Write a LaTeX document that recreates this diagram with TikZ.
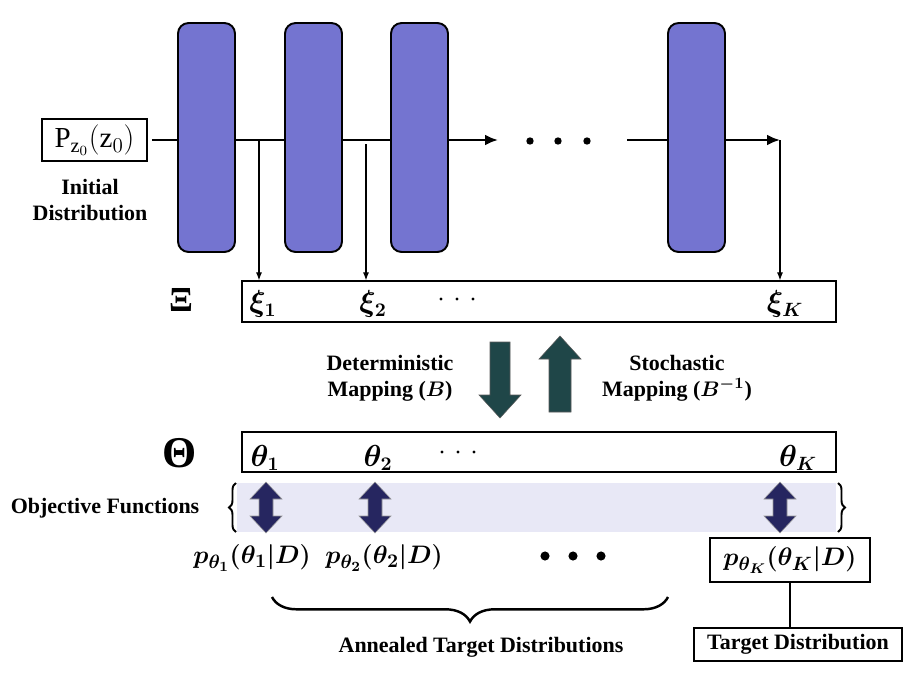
\documentclass[tikz,border=0pt]{standalone}
\usepackage{fontspec}
\setmainfont{Liberation Serif}
\usepackage{amsmath}
\usetikzlibrary{arrows.meta,decorations.pathreplacing}

\definecolor{blockblue}{RGB}{116,116,208}
\definecolor{bandblue}{RGB}{232,232,246}
\definecolor{navy}{RGB}{38,38,96}
\definecolor{mapteal}{RGB}{31,70,72}

\tikzset{
  layer/.style={draw, line width=1.1pt, fill=blockblue, rounded corners=6pt,
    minimum width=1.14cm, minimum height=4.58cm, inner sep=0pt},
  strip/.style={draw, line width=0.7pt, minimum width=11.88cm, minimum height=0.82cm, inner sep=0pt},
  thinbox/.style={draw, line width=0.7pt, inner sep=0pt},
  lbl/.style={font=\fontsize{12.5}{15}\selectfont\bfseries\boldmath, align=center},
  sym/.style={font=\fontsize{16}{18}\selectfont\boldmath, inner sep=0pt},
  dist/.style={font=\fontsize{15.2}{17}\selectfont\boldmath, inner sep=0pt},
  flow/.style={line width=1.7pt},
  tap/.style={line width=0.6pt, -{Latex[length=1.6mm,width=1.2mm]}},
  bigarrow/.style={fill=mapteal, draw=gray!70!black, line width=0.3pt},
  dblarrow/.style={fill=navy, draw=gray!80, line width=0.3pt}
}

\begin{document}
\begin{tikzpicture}[x=0.02cm,y=-0.02cm]
\useasboundingbox (0,0) rectangle (916,676);
% layers
\node[layer] (b1) at (206.5,137.5) {};
\node[layer] (b2) at (313.5,137.5) {};
\node[layer] (b3) at (419.5,137.5) {};
\node[layer] (bK) at (696.5,137.5) {};
\node[thinbox, minimum width=2.1cm, minimum height=0.84cm, font=\fontsize{16.5}{18}\selectfont] (p0) at (94.5,140) {$\mathrm{P}_{\mathrm{z}_0}(\mathrm{z}_0)$};
\node[lbl] (init) at (90,200) {Initial\\Distribution};
\coordinate (d1) at (498,140);
\coordinate (d2) at (627,140);
\coordinate (eK) at (780,140);
\coordinate (t1) at (259,140);
\coordinate (t2) at (366,144);
\foreach \x in {530,558,587} \fill (\x,141) circle (2.1pt);
\path[draw,flow,shorten <=2.5pt] (p0.east) -- (p0.east -| b1.west);
\path[draw,flow] (b1.east |- d1) -- (b2.west |- d1);
\path[draw,flow] (b2.east |- d1) -- (b3.west |- d1);
\path[draw,flow,-{Latex[length=2.6mm,width=2.2mm]}] (b3.east |- d1) -- (d1);
\path[draw,flow] (d2) -- (bK.west |- d2);
\path[draw,flow,-{Latex[length=2.6mm,width=2.2mm]}] (bK.east |- d2) -- (eK);
% xi row
\node[strip] (xi) at (539,301.5) {};
\node[font=\fontsize{20}{22}\selectfont\bfseries] (Xi) at (181,300) {Ξ};
\path[draw,tap] (t1) -- (t1 |- xi.north);
\path[draw,tap] (t2) -- (t2 |- xi.north);
\path[draw,tap] (eK) -- (eK |- xi.north);
\node[sym] (xi1) at (263,304) {$\xi_1$};
\node[sym] (xi2) at (373,304) {$\xi_2$};
\foreach \x in {441,457,473} \fill (\x,299) circle (0.9pt);
\node[sym] (xiK) at (785,304) {$\xi_K$};
% mappings
\filldraw[bigarrow] (490,342) -- (510,342) -- (510,395) -- (521,395) -- (500,418) -- (479,395) -- (490,395) -- cycle;
\filldraw[bigarrow] (560,336) -- (581,359) -- (571,359) -- (571,412) -- (549,412) -- (549,359) -- (539,359) -- cycle;
\node[lbl] (det) at (390,378) {Deterministic\\Mapping ($B$)};
\node[lbl] (sto) at (677,378) {Stochastic\\Mapping ($B^{-1}$)};
% theta row
\node[strip, minimum height=0.8cm] (th) at (539,452) {};
\node[font=\fontsize{25}{27}\selectfont\bfseries] (Th) at (180,453) {Θ};
\node[sym] (th1) at (265,458) {$\theta_1$};
\node[sym] (th2) at (378,458) {$\theta_2$};
\foreach \x in {442,458,474} \fill (\x,452) circle (0.9pt);
\node[sym] (thK) at (798,458) {$\theta_K$};
% objectives
\fill[bandblue] (237,483) rectangle (836,532);
\draw[decorate, decoration={brace,amplitude=4pt}, line width=1.1pt] (236,532) -- (236,483);
\draw[decorate, decoration={brace,amplitude=4pt}, line width=1.1pt] (838,483) -- (838,532);
\node[lbl] (obj) at (105,508) {Objective Functions};
\foreach \cx in {266,375,780}
  \filldraw[dblarrow] (\cx,482) -- (\cx+16,499) -- (\cx+7,499) -- (\cx+7,516) -- (\cx+16,516) -- (\cx,533)
    -- (\cx-16,516) -- (\cx-7,516) -- (\cx-7,499) -- (\cx-16,499) -- cycle;
% targets
\node[dist] (pt1) at (252,558) {$p_{\theta_1}(\theta_1|D)$};
\node[dist] (pt2) at (384,558) {$p_{\theta_2}(\theta_2|D)$};
\foreach \x in {545,573,601} \fill (\x,556) circle (2.6pt);
\node[thinbox, dist, minimum width=3.2cm, minimum height=0.88cm] (pK) at (790,560) {$p_{\theta_K}(\theta_K|D)$};
\draw[decorate, decoration={brace,amplitude=14pt}, line width=1.4pt] (668,597) -- (272,597);
\node[lbl] (ann) at (481,647) {Annealed Target Distributions};
\node[thinbox, lbl, minimum width=4.16cm, minimum height=0.66cm] (tgt) at (798,644.5) {Target Distribution};
\path[draw,line width=0.6pt] (pK.south) -- (pK.south |- tgt.north);
\end{tikzpicture}
\end{document}
